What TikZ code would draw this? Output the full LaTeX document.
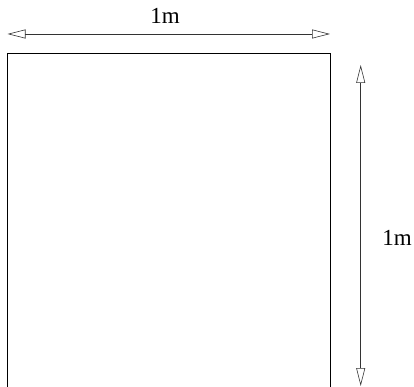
\documentclass[tikz,border=0pt]{standalone}
\usepackage{fontspec}
\setmainfont{Liberation Serif}
\usetikzlibrary{
    arrows.meta
}

\begin{document}
\begin{tikzpicture}[x=1pt,y=-1pt,
    dim/.style={draw=black!80,line width=0.6pt,{Triangle[open,length=18pt,width=9pt]}-{Triangle[open,length=18pt,width=9pt]}},
    lbl/.style={font=\fontsize{23}{27}\selectfont,inner sep=0pt}]

\useasboundingbox (0,0) rectangle (414,387);

% Plate
\draw[line width=1pt] (7.5,387) -- (7.5,54) -- (330.5,54) -- (330.5,387);

% Dimension arrows
\coordinate (wl) at (7.5,34);
\coordinate (wr) at (330,34);
\coordinate (ht) at (360.7,65);
\coordinate (hb) at (360.7,386);
\draw[dim] (wl) -- (wr);
\draw[dim] (ht) -- (hb);

% Labels
\node[lbl,anchor=base] (width) at (165,24) {1m};
\node[lbl,anchor=base] (height) at (397,245) {1m};

\end{tikzpicture}
\end{document}
